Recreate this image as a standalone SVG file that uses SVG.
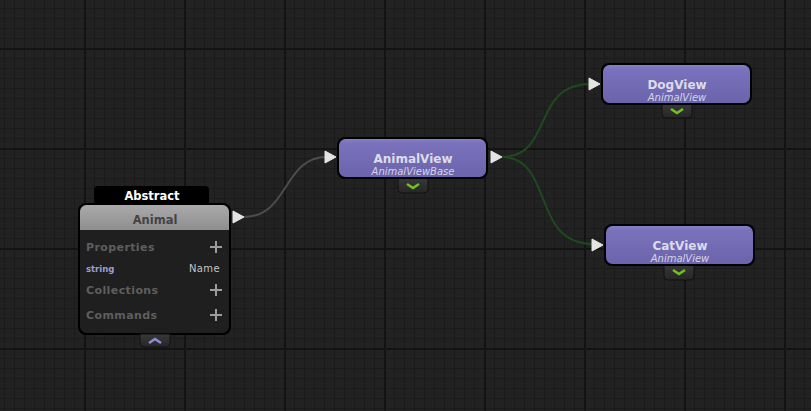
<svg xmlns="http://www.w3.org/2000/svg" width="811" height="411" viewBox="0 0 811 411">
<defs>
  <pattern id="minor" patternUnits="userSpaceOnUse" x="4" y="8" width="10" height="10">
    <rect x="0" y="0" width="10" height="1" fill="#1b1b1b"/>
    <rect x="0" y="0" width="1" height="10" fill="#1b1b1b"/>
  </pattern>
  <pattern id="major" patternUnits="userSpaceOnUse" x="84" y="48" width="100" height="100">
    <rect x="0" y="0" width="100" height="2" fill="#131313"/>
    <rect x="0" y="0" width="2" height="100" fill="#131313"/>
  </pattern>
  <linearGradient id="purple" x1="0" y1="0" x2="0" y2="1">
    <stop offset="0" stop-color="#8880c6"/>
    <stop offset="0.1" stop-color="#7a72bc"/>
    <stop offset="1" stop-color="#6b63ab"/>
  </linearGradient>
  <linearGradient id="gray" x1="0" y1="0" x2="0" y2="1">
    <stop offset="0" stop-color="#aaaaaa"/>
    <stop offset="1" stop-color="#8e8e8e"/>
  </linearGradient>
  <linearGradient id="btn" x1="0" y1="0" x2="0" y2="1">
    <stop offset="0" stop-color="#383838"/>
    <stop offset="1" stop-color="#262626"/>
  </linearGradient>
  <polygon id="port" points="0,0 11,6 0,12" />
</defs>
<style>
  .t { font-family: "DejaVu Sans", "Liberation Sans", sans-serif; }
  .title { font-size: 12px; font-weight: bold; fill: #dcdcea; text-anchor: middle; }
  .sub { font-size: 10px; font-style: italic; fill: #d4d4e4; text-anchor: middle; }
  .sec { font-size: 11px; font-weight: bold; fill: #5e5e5e; letter-spacing: 0.4px; }
  .plus { stroke: #9c9c9c; stroke-width: 2; }
  .port { fill: #e4e4e4; stroke: #e4e4e4; stroke-width: 1; stroke-linejoin: round; }
  .border { fill: #000000; }
  .btn { fill: url(#btn); stroke: #111111; stroke-width: 1; }
  .chev-g { fill: none; stroke: #72c21e; stroke-width: 2.5; }
  .chev-p { fill: none; stroke: #8c8cd6; stroke-width: 2.5; }
</style>
<rect x="0" y="0" width="811" height="411" fill="#222222"/>
<rect x="0" y="0" width="811" height="411" fill="url(#minor)"/>
<rect x="0" y="0" width="811" height="411" fill="url(#major)"/>

<g id="connectors" fill="none" stroke-width="2">
  <path d="M243,217 C290,217 282,157 327,157" stroke="#4c4c4c"/>
  <path d="M501,157 C555,157 530,84 591,84" stroke="#1f4a1f"/>
  <path d="M501,157 C555,157 530,244 593,244" stroke="#1f4a1f"/>
</g>

<g id="node-animal">
  <path d="M94,206 V190 a4,4 0 0 1 4,-4 H205 a4,4 0 0 1 4,4 V206 Z" class="border"/>
  <text x="152" y="200" class="t" font-size="11.5" font-weight="bold" fill="#ffffff" text-anchor="middle">Abstract</text>
  <rect x="78" y="203" width="153" height="132" rx="8" class="border"/>
  <rect x="80" y="205" width="149" height="128" rx="6.5" fill="#1f1f1f"/>
  <path d="M80,230 V211.5 a6.5,6.5 0 0 1 6.5,-6.5 H222.5 a6.5,6.5 0 0 1 6.5,6.5 V230 Z" fill="url(#gray)"/>
  <text x="155" y="224" class="t" font-size="11.5" font-weight="bold" fill="#444444" text-anchor="middle">Animal</text>
  <text x="86" y="251" class="t sec">Properties</text>
  <path d="M210,247 h12 M216,241 v12" class="plus"/>
  <text x="86" y="272" class="t" font-size="8.5" font-weight="bold" fill="#9d9dd2">string</text>
  <text x="220" y="272" class="t" font-size="10" fill="#c4c4c4" text-anchor="end" letter-spacing="0.4">Name</text>
  <text x="86" y="294" class="t sec">Collections</text>
  <path d="M210,290 h12 M216,284 v12" class="plus"/>
  <text x="86" y="319" class="t sec">Commands</text>
  <path d="M210,315 h12 M216,309 v12" class="plus"/>
  <path d="M140,334 h30 v9 a4,4 0 0 1 -4,4 h-22 a4,4 0 0 1 -4,-4 Z" class="btn"/>
  <polyline points="149,343 155,339 161,343" class="chev-p"/>
  <use href="#port" x="233" y="211" class="port"/>
</g>

<g id="node-animalview">
  <path d="M398,178 h30 v11 a4,4 0 0 1 -4,4 h-22 a4,4 0 0 1 -4,-4 Z" class="btn"/>
  <polyline points="407,184 413,188 419,184" class="chev-g"/>
  <rect x="337" y="137" width="151" height="42" rx="8" class="border"/>
  <rect x="339" y="139" width="147" height="38" rx="6.5" fill="url(#purple)"/>
  <text x="413" y="163" class="t title">AnimalView</text>
  <text x="413" y="175" class="t sub">AnimalViewBase</text>
  <use href="#port" x="325" y="151" class="port"/>
  <use href="#port" x="491" y="151" class="port"/>
</g>

<g id="node-dogview">
  <path d="M662,104 h30 v10 a4,4 0 0 1 -4,4 h-22 a4,4 0 0 1 -4,-4 Z" class="btn"/>
  <polyline points="671,109 677,113 683,109" class="chev-g"/>
  <rect x="601" y="63" width="151" height="42" rx="8" class="border"/>
  <rect x="603" y="65" width="147" height="38" rx="6.5" fill="url(#purple)"/>
  <text x="677" y="89" class="t title">DogView</text>
  <text x="677" y="101" class="t sub">AnimalView</text>
  <use href="#port" x="589" y="78" class="port"/>
</g>

<g id="node-catview">
  <path d="M664,265 h30 v11 a4,4 0 0 1 -4,4 h-22 a4,4 0 0 1 -4,-4 Z" class="btn"/>
  <polyline points="673,270 679,274 685,270" class="chev-g"/>
  <rect x="604" y="224" width="151" height="42" rx="8" class="border"/>
  <rect x="606" y="226" width="147" height="38" rx="6.5" fill="url(#purple)"/>
  <text x="680" y="250" class="t title">CatView</text>
  <text x="680" y="262" class="t sub">AnimalView</text>
  <use href="#port" x="592" y="239" class="port"/>
</g>
</svg>
